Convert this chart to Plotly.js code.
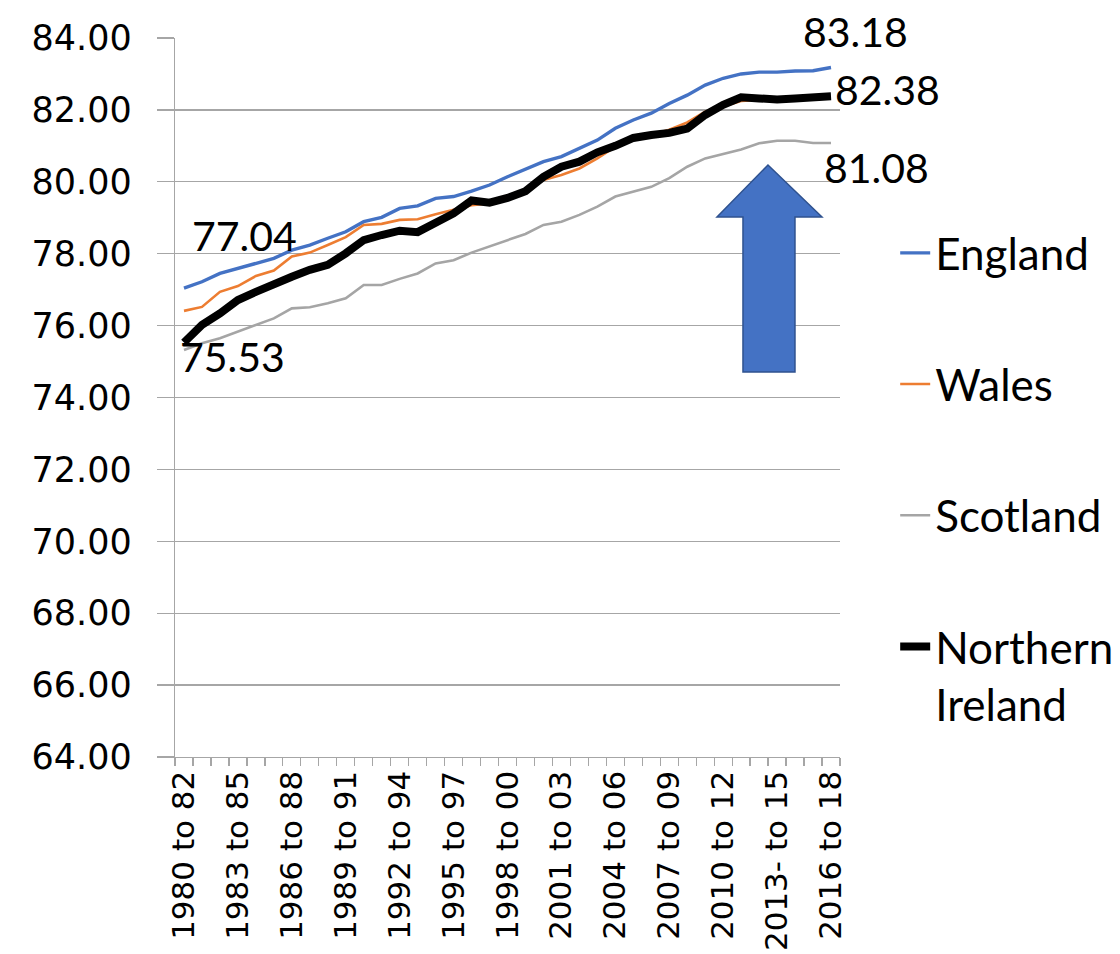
<!DOCTYPE html>
<html><head><meta charset="utf-8">
<script src="https://cdn.plot.ly/plotly-3.0.1.min.js"></script>
<style>html,body{margin:0;padding:0;background:#fff;}#chart{width:1120px;height:954px;}</style>
</head><body><div id="chart"></div>
<script>
const categories = ["1980 to 82","1981 to 83","1982 to 84","1983 to 85","1984 to 86","1985 to 87","1986 to 88","1987 to 89","1988 to 90","1989 to 91","1990 to 92","1991 to 93","1992 to 94","1993 to 95","1994 to 96","1995 to 97","1996 to 98","1997 to 99","1998 to 00","1999 to 01","2000 to 02","2001 to 03","2002 to 04","2003 to 05","2004 to 06","2005 to 07","2006 to 08","2007 to 09","2008 to 10","2009 to 11","2010 to 12","2011 to 13","2012 to 14","2013- to 15","2014 to 16","2015 to 17","2016 to 18"];
const england = [77.04,77.22,77.45,77.59,77.73,77.87,78.10,78.24,78.43,78.61,78.89,79.01,79.26,79.33,79.54,79.59,79.74,79.91,80.14,80.35,80.56,80.70,80.93,81.16,81.49,81.72,81.91,82.18,82.41,82.69,82.88,83.00,83.05,83.05,83.08,83.09,83.18];
const wales = [76.41,76.52,76.94,77.10,77.38,77.53,77.92,78.03,78.24,78.46,78.80,78.83,78.94,78.96,79.10,79.22,79.35,79.40,79.61,79.79,80.05,80.19,80.37,80.65,80.98,81.20,81.30,81.45,81.65,81.95,82.10,82.25,82.28,82.27,82.30,82.30,82.32];
const scotland = [75.32,75.51,75.65,75.83,76.02,76.20,76.48,76.51,76.62,76.76,77.13,77.13,77.30,77.45,77.73,77.82,78.03,78.20,78.37,78.55,78.80,78.89,79.08,79.31,79.59,79.72,79.86,80.10,80.42,80.65,80.77,80.90,81.07,81.14,81.14,81.08,81.08];
const nireland = [75.53,76.02,76.34,76.71,76.94,77.18,77.36,77.55,77.69,78.01,78.38,78.52,78.64,78.60,78.86,79.12,79.48,79.42,79.55,79.74,80.14,80.42,80.56,80.82,81.00,81.22,81.30,81.36,81.48,81.86,82.14,82.35,82.32,82.29,82.32,82.33,82.38];
const seriesNames = ["England","Wales","Scotland","Northern<br>Ireland"];
const yTicks = [64,66,68,70,72,74,76,78,80,82,84];

const tickText = categories.map((c,i)=> i%3===0 ? c : "");
const last = categories.length-1;

const traces = [
  {x:categories,y:england,name:seriesNames[0],type:'scatter',mode:'lines',line:{color:'#4472C4',width:3.4},legendgroup:'a'},
  {x:categories,y:wales,name:seriesNames[1],type:'scatter',mode:'lines',line:{color:'#ED7D31',width:2.6},legendgroup:'b'},
  {x:categories,y:scotland,name:seriesNames[2],type:'scatter',mode:'lines',line:{color:'#A5A5A5',width:2.6},legendgroup:'c'},
  {x:categories,y:nireland,name:seriesNames[3],type:'scatter',mode:'lines',line:{color:'#000000',width:8},legendgroup:'d'}
];

const annFont = {family:'Lato, "Open Sans", sans-serif', size:41, color:'#000'};
const annotations = [
  {x:categories[0],y:england[0],text:england[0].toFixed(2),showarrow:false,xanchor:'left',yanchor:'middle',xshift:6,yshift:53,font:annFont},
  {x:categories[0],y:nireland[0],text:nireland[0].toFixed(2),showarrow:false,xanchor:'left',yanchor:'middle',xshift:-6,yshift:-14,font:annFont},
  {x:categories[last],y:england[last],text:england[last].toFixed(2),showarrow:false,xanchor:'center',yanchor:'middle',xshift:24,yshift:36,font:annFont},
  {x:categories[last],y:nireland[last],text:nireland[last].toFixed(2),showarrow:false,xanchor:'left',yanchor:'middle',xshift:2,yshift:7,font:annFont},
  {x:categories[last],y:scotland[last],text:scotland[last].toFixed(2),showarrow:false,xanchor:'left',yanchor:'middle',xshift:-9,yshift:-25,font:annFont}
];

const shapes = [
  {type:'path',xref:'paper',yref:'paper',
   path:'M 0.8541 0.5355 L 0.9323 0.5355 L 0.9323 0.7510 L 0.9729 0.7510 L 0.8917 0.8234 L 0.8150 0.7510 L 0.8541 0.7510 Z',
   fillcolor:'#4472C4',line:{color:'#2F528F',width:1.5}}
];

const layout = {
  width:1120,height:954,
  margin:{l:175,r:280,t:38,b:197,autoexpand:false},
  paper_bgcolor:'#fff',plot_bgcolor:'#fff',
  showlegend:true,
  legend:{x:1.083,xanchor:'left',y:0.75,yanchor:'top',font:{family:'Lato, "Open Sans", sans-serif',size:44,color:'#000'},
          tracegroupgap:71,valign:'top',bgcolor:'rgba(0,0,0,0)',itemwidth:30},
  xaxis:{type:'category',tickmode:'array',tickvals:categories,ticktext:tickText,tickangle:-90,
         tickson:'boundaries',ticks:'outside',ticklen:8,tickcolor:'#A6A6A6',tickwidth:1.3,
         showline:true,linecolor:'#A6A6A6',linewidth:1.3,showgrid:false,zeroline:false,
         range:[-0.5,last+0.5],automargin:false,
         tickfont:{family:'"DejaVu Sans", Verdana, sans-serif',size:31,color:'#000'}},
  yaxis:{range:[64,84],tickmode:'array',tickvals:yTicks,tickformat:'.2f',
         ticks:'outside',ticklen:17,tickcolor:'#A6A6A6',tickwidth:1.3,
         showline:true,linecolor:'#A6A6A6',linewidth:1.3,
         showgrid:true,gridcolor:'#A6A6A6',gridwidth:1.3,zeroline:false,
         ticklabelstandoff:18,automargin:false,
         tickfont:{family:'"DejaVu Sans", Verdana, sans-serif',size:35,color:'#000'}},
  annotations:annotations,
  shapes:shapes
};
Plotly.newPlot('chart',traces,layout,{displayModeBar:false,staticPlot:true});
</script></body></html>
